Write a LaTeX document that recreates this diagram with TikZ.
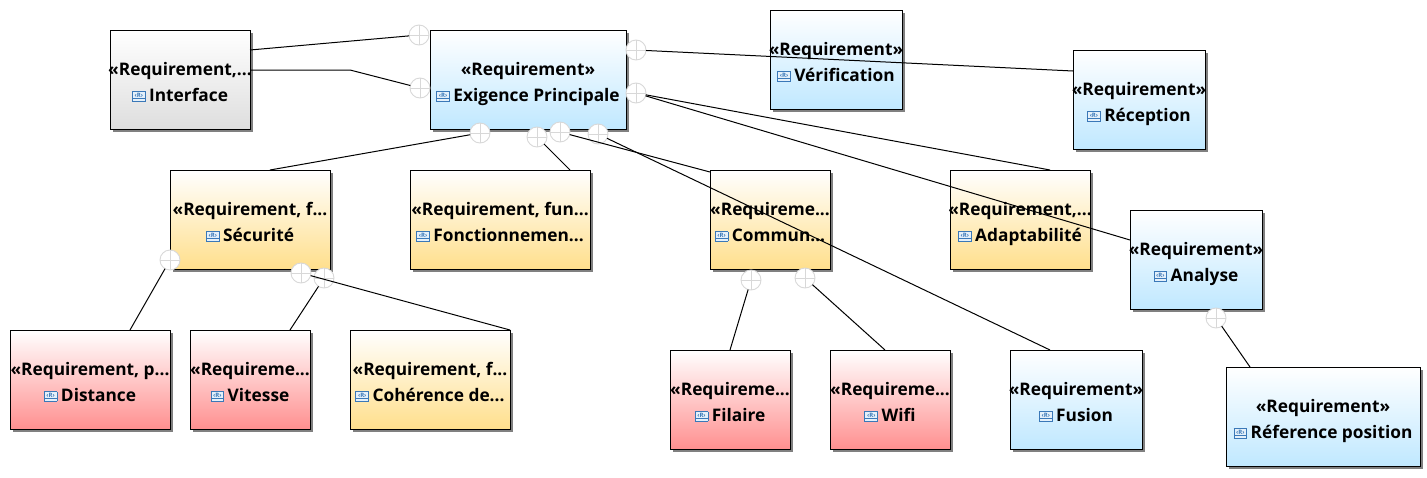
\documentclass[tikz,border=0pt]{standalone}
\usepackage{fontspec}
\setmainfont{Open Sans}
\usetikzlibrary{shadows}
\definecolor{blueB}{HTML}{C0E8FF}
\definecolor{yellowB}{HTML}{FFDF8C}
\definecolor{redB}{HTML}{FF9090}
\definecolor{grayB}{HTML}{DEDEDE}
\definecolor{iconB}{HTML}{3A78B8}
\definecolor{iconF}{HTML}{E4F0FA}
\definecolor{circ}{HTML}{D8D8D8}
\newcommand\ricon{\raisebox{0pt}{\setlength\fboxsep{0pt}\setlength\fboxrule{0.8pt}\fcolorbox{iconB}{iconF}{\vbox{\hsize=12pt\offinterlineskip\kern1pt\hbox to 12pt{\hss\fontsize{6}{6}\selectfont\color{iconB}‹R›\hss}\kern1pt\hbox{\color{iconB}\vrule width 12pt height 0.7pt}\kern2pt}}}\kern3.5pt}
\newcommand\lab[2]{\rule{0pt}{22pt}\makebox[0pt]{#1}\\\rule[-5pt]{0pt}{5pt}\makebox[0pt]{\ricon#2}}
\tikzset{
  x=1pt,y=-1pt,
  req/.style={draw=black,line width=0.95pt,inner sep=0pt,outer sep=0pt,align=center,
    font=\fontsize{17.3}{26}\selectfont\bfseries,
    drop shadow={shadow xshift=3pt,shadow yshift=-3pt,fill=black!50,opacity=1},
    top color=white,anchor=north west},
  rblue/.style={req,bottom color=blueB},
  ryellow/.style={req,top color=white,bottom color=yellowB},
  rred/.style={req,bottom color=redB},
  rgray/.style={req,bottom color=grayB},
  w/.style 2 args={minimum width=#1pt,minimum height=#2pt},
  link/.style={draw=black,line width=1pt},
  plus/.style={circle,draw=circ,fill=white,line width=0.9pt,minimum size=20pt,inner sep=0pt,outer sep=0pt,
    path picture={\draw[circ,line width=0.7pt] (path picture bounding box.north) -- (path picture bounding box.south)
      (path picture bounding box.west) -- (path picture bounding box.east);}},
}
\begin{document}
\begin{tikzpicture}
\useasboundingbox (0,0) rectangle (1427,477);
\node[rgray,w={140}{99}] (iface) at (110,30) {\lab{«Requirement,...}{Interface}};
\node[rblue,w={196}{99}] (main) at (430,30) {\lab{«Requirement»}{Exigence Principale}};
\node[rblue,w={132}{99}] (verif) at (770,10) {\lab{«Requirement»}{Vérification}};
\node[rblue,w={132}{99}] (recep) at (1073,50) {\lab{«Requirement»}{Réception}};
\node[ryellow,w={160}{99}] (secu) at (170,170) {\lab{«Requirement, f...}{Sécurité}};
\node[ryellow,w={180}{99}] (fonc) at (410,170) {\lab{«Requirement, fun...}{Fonctionnemen...}};
\node[ryellow,w={120}{99}] (comm) at (710,170) {\lab{«Requireme...}{Commun...}};
\node[ryellow,w={140}{99}] (adapt) at (950,170) {\lab{«Requirement,...}{Adaptabilité}};
\node[rblue,w={132}{99}] (ana) at (1130,210) {\lab{«Requirement»}{Analyse}};
\node[rred,w={160}{99}] (dist) at (10,330) {\lab{«Requirement, p...}{Distance}};
\node[rred,w={120}{99}] (vit) at (190,330) {\lab{«Requireme...}{Vitesse}};
\node[ryellow,w={160}{99}] (coh) at (350,330) {\lab{«Requirement, f...}{Cohérence de...}};
\node[rred,w={120}{99}] (fil) at (670,350) {\lab{«Requireme...}{Filaire}};
\node[rred,w={120}{99}] (wifi) at (830,350) {\lab{«Requireme...}{Wifi}};
\node[rblue,w={132}{99}] (fus) at (1010,350) {\lab{«Requirement»}{Fusion}};
\node[rblue,w={194}{99}] (refp) at (1226,367) {\lab{«Requirement»}{Réference position}};
\coordinate (bend) at (350,70);
\node[plus] (c1) at (419,35) {};
\node[plus] (c2) at (420,88) {};
\node[plus] (c3) at (636,50) {};
\node[plus] (c4) at (636,93) {};
\node[plus] (c5) at (480,133) {};
\node[plus] (c6) at (537,137) {};
\node[plus] (c7) at (560,132) {};
\node[plus] (c8) at (598,134) {};
\node[plus] (c9) at (170,260) {};
\node[plus] (c10) at (301,273) {};
\node[plus] (c11) at (324,278) {};
\node[plus] (c12) at (751,280) {};
\node[plus] (c13) at (805,278) {};
\node[plus] (c14) at (1216,318) {};
\draw[link] ([yshift=-20pt]iface.north east) -- (c1);
\draw[link] ([yshift=-40pt]iface.north east) -- (bend) -- (c2);
\draw[link] (c3) -- ([yshift=-21pt]recep.north west);
\draw[link] (c4) -- ([xshift=100pt]adapt.north west);
\draw[link] (c4) -- ([yshift=-30pt]ana.north west);
\draw[link] (c5) -- ([xshift=100pt]secu.north west);
\draw[link] (c6) -- ([xshift=160pt]fonc.north west);
\draw[link] (c7) -- ([yshift=-2pt]comm.north west);
\draw[link] (c8) -- ([xshift=40pt]fus.north west);
\draw[link] (c9) -- ([xshift=120pt]dist.north west);
\draw[link] (c10) -- (coh.north east);
\draw[link] (c11) -- ([xshift=100pt]vit.north west);
\draw[link] (c12) -- ([xshift=60pt]fil.north west);
\draw[link] (c13) -- ([xshift=55pt]wifi.north west);
\draw[link] (c14) -- ([xshift=24pt]refp.north west);
\end{tikzpicture}
\end{document}
